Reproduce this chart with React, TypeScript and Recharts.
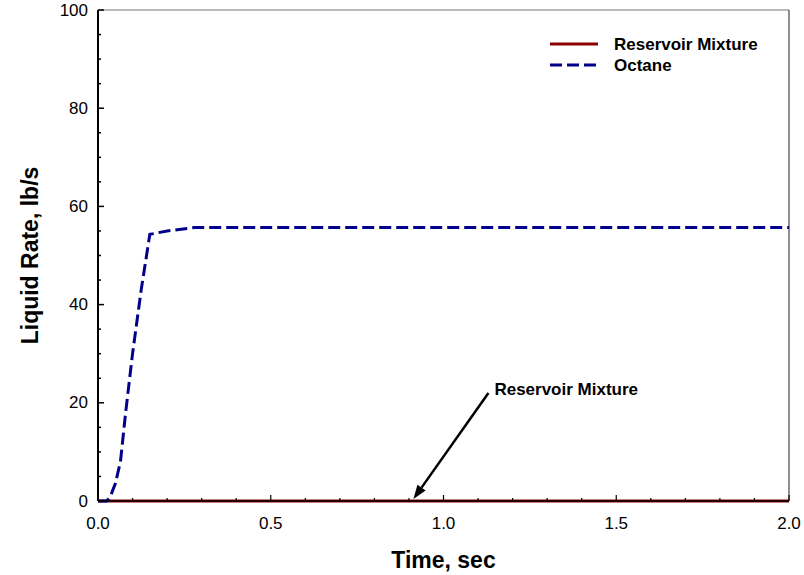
import React from 'react';
import {
  LineChart,
  Line,
  XAxis,
  YAxis,
  Legend,
  Label,
  ReferenceLine,
} from 'recharts';

// time samples, s
const timeSec = [0, 0.025, 0.035, 0.05, 0.065, 0.08, 0.1, 0.125, 0.15, 0.2, 0.28, 0.5, 1.0, 1.5, 2.0];
// liquid rate, lb/s
const octaneRate = [0, 0, 0.8, 3.5, 8, 18, 30, 43, 54.3, 55, 55.7, 55.7, 55.7, 55.7, 55.7];
const reservoirRate = [0, 0, 0, 0, 0, 0, 0, 0, 0, 0, 0, 0, 0, 0, 0];
const seriesNames = ['Reservoir Mixture', 'Octane'];

const xTicks = [0, 0.1, 0.2, 0.3, 0.4, 0.5, 0.6, 0.7, 0.8, 0.9, 1.0, 1.1, 1.2, 1.3, 1.4, 1.5, 1.6, 1.7, 1.8, 1.9, 2.0];
const xMajor = [0, 0.5, 1.0, 1.5, 2.0];
const yTicks = [0, 5, 10, 15, 20, 25, 30, 35, 40, 45, 50, 55, 60, 65, 70, 75, 80, 85, 90, 95, 100];
const yMajor = [0, 20, 40, 60, 80, 100];

// annotation arrow: label end -> pointed end
const arrowFrom = { x: 1.13, y: 22 };
const arrowTo = { x: 0.913, y: 0.4 };

const data = timeSec.map((t, i) => ({ t, octane: octaneRate[i], reservoir: reservoirRate[i] }));

const FONT = '"Liberation Sans", Arial, sans-serif';
const RED = '#8b0000';
const BLUE = '#00008b';
const Y_GAP = 10;
const X_GAP = 16;

const YTick = (props: any) => {
  const { x, y, payload } = props;
  const v = payload.value;
  const major = yMajor.includes(v);
  const ax = x + Y_GAP;
  return (
    <g>
      <line x1={ax} x2={ax + (major ? 6 : 3)} y1={y} y2={y} stroke="#000" strokeWidth={1.5} />
      {major && (
        <text x={x} y={y} textAnchor="end" dominantBaseline="central" fontFamily={FONT} fontSize={17} fill="#000">
          {v}
        </text>
      )}
    </g>
  );
};

const XTick = (props: any) => {
  const { x, y, payload } = props;
  const v = payload.value;
  const major = xMajor.some((m) => Math.abs(m - v) < 1e-6);
  const ay = y - X_GAP;
  return (
    <g>
      <line x1={x} x2={x} y1={ay} y2={ay - (major ? 6 : 3)} stroke="#000" strokeWidth={1.2} />
      {major && (
        <text x={x} y={y + 12} textAnchor="middle" fontFamily={FONT} fontSize={17} fill="#000">
          {v.toFixed(1)}
        </text>
      )}
    </g>
  );
};

const YTitle = (props: any) => {
  const { viewBox } = props;
  const cx = viewBox.x + 30;
  const cy = viewBox.y + viewBox.height / 2;
  return (
    <text
      x={cx}
      y={cy}
      transform={`rotate(-90 ${cx} ${cy})`}
      textAnchor="middle"
      dominantBaseline="central"
      fontFamily={FONT}
      fontWeight="bold"
      fontSize={23}
      fill="#000"
    >
      Liquid Rate, lb/s
    </text>
  );
};

const XTitle = (props: any) => {
  const { viewBox } = props;
  return (
    <text
      x={viewBox.x + viewBox.width / 2}
      y={viewBox.y + 59}
      textAnchor="middle"
      dominantBaseline="central"
      fontFamily={FONT}
      fontWeight="bold"
      fontSize={23}
      fill="#000"
    >
      Time, sec
    </text>
  );
};

const ArrowShape = (props: any) => {
  const { x1, y1, x2, y2 } = props;
  const ang = Math.atan2(y2 - y1, x2 - x1);
  const len = 14;
  const w = 5;
  const bx = x2 - len * Math.cos(ang);
  const by = y2 - len * Math.sin(ang);
  const px = -Math.sin(ang) * w;
  const py = Math.cos(ang) * w;
  return (
    <g>
      <line x1={x1} y1={y1} x2={bx} y2={by} stroke="#000" strokeWidth={2.5} />
      <polygon points={`${x2},${y2} ${bx + px},${by + py} ${bx - px},${by - py}`} fill="#000" />
      <text x={x1 + 6} y={y1 - 3} dominantBaseline="central" fontFamily={FONT} fontWeight="bold" fontSize={17} fill="#000">
        Reservoir Mixture
      </text>
    </g>
  );
};

const LegendBox = (props: any) => {
  const items = [...(props.payload || [])].sort(
    (a: any, b: any) => seriesNames.indexOf(a.value) - seriesNames.indexOf(b.value)
  );
  return (
    <svg width={230} height={46}>
      {items.map((p: any, i: number) => (
        <g key={p.value} transform={`translate(0 ${10 + i * 21})`}>
          <line
            x1={0}
            x2={48}
            y1={0}
            y2={0}
            stroke={p.color}
            strokeWidth={3}
            strokeDasharray={p.payload && p.payload.strokeDasharray}
          />
          <text x={64} y={0} dominantBaseline="central" fontFamily={FONT} fontWeight="bold" fontSize={17} fill="#000">
            {p.value}
          </text>
        </g>
      ))}
    </svg>
  );
};

export default function App() {
  return (
    <div style={{ position: 'absolute', left: 0, top: 0, background: '#fff' }}>
      <LineChart width={804} height={575} data={data} margin={{ top: 10, right: 15, left: 0, bottom: 0 }}>
        <XAxis
          dataKey="t"
          type="number"
          domain={[0, 2]}
          ticks={xTicks}
          interval={0}
          height={74}
          tickSize={0}
          tickMargin={X_GAP}
          tickLine={false}
          axisLine={{ stroke: '#000', strokeWidth: 1.5 }}
          tick={<XTick />}
        >
          <Label content={<XTitle />} />
        </XAxis>
        <YAxis
          type="number"
          domain={[0, 100]}
          ticks={yTicks}
          interval={0}
          width={98}
          tickSize={0}
          tickMargin={Y_GAP}
          tickLine={false}
          axisLine={{ stroke: '#000', strokeWidth: 2 }}
          tick={<YTick />}
        >
          <Label content={<YTitle />} />
        </YAxis>
        <ReferenceLine y={100} stroke="#777" strokeWidth={1.2} />
        <ReferenceLine x={2} stroke="#444" strokeWidth={1.2} />
        <ReferenceLine segment={[arrowFrom, arrowTo]} shape={<ArrowShape />} />
        <Legend
          verticalAlign="middle"
          align="center"
          layout="vertical"
          content={<LegendBox />}
          wrapperStyle={{ position: 'absolute', left: 550, top: 34, width: 230, height: 46 }}
        />
        <Line
          name="Reservoir Mixture"
          dataKey="reservoir"
          type="linear"
          stroke={RED}
          strokeWidth={3}
          dot={false}
          isAnimationActive={false}
        />
        <Line
          name="Octane"
          dataKey="octane"
          type="linear"
          stroke={BLUE}
          strokeWidth={3}
          strokeDasharray="12 5"
          dot={false}
          isAnimationActive={false}
        />
      </LineChart>
    </div>
  );
}
